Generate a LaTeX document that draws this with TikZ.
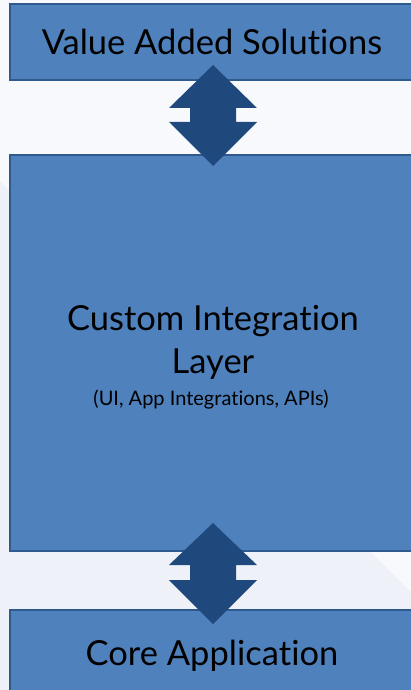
\documentclass[tikz,border=0pt]{standalone}
\usepackage{fontspec}
\setmainfont{Lato}[RawFeature={-liga;-dlig;-calt}]
\definecolor{bglow}{HTML}{EEF1F8}
\definecolor{bghigh}{HTML}{F8F9FC}
\definecolor{boxfill}{HTML}{4F81BD}
\definecolor{boxline}{HTML}{2F5A8E}
\definecolor{arrowfill}{HTML}{1F497D}
\tikzset{
  layerbox/.style={fill=boxfill, draw=boxline, line width=1.6pt},
  dblarrow/.style={fill=arrowfill, draw=none},
  biglbl/.style={font=\fontsize{34.5}{38}\selectfont, text=black, inner sep=0pt, anchor=base},
  smalllbl/.style={font=\fontsize{20}{23}\selectfont, text=black, inner sep=0pt, anchor=base}
}
\newcommand{\nolig}{\kern0pt}
\begin{document}
\begin{tikzpicture}[x=1pt,y=-1pt]
\useasboundingbox (0,0) rectangle (411,690);
\clip (0,0) rectangle (411,690);
% background
\fill[bglow] (0,0) rectangle (411,690);
\fill[bghigh] (0,0) -- (411,0) -- (411,592) -- (0,181) -- cycle;
% boxes
\draw[layerbox] (10,4) rectangle (425,80);
\draw[layerbox] (10,155) rectangle (425,551);
\draw[layerbox] (10,610) rectangle (425,710);
% arrows
\fill[dblarrow] (213,65) -- (257,108) -- (236,108) -- (236,122) -- (257,122) -- (213,166)
  -- (169,122) -- (190,122) -- (190,108) -- (169,108) -- cycle;
\fill[dblarrow] (213,523) -- (257,565) -- (236,565) -- (236,580) -- (257,580) -- (213,624)
  -- (169,580) -- (190,580) -- (190,565) -- (169,565) -- cycle;
% labels
\node[biglbl] (vas) at (212,55) {Value Added Solu\nolig tions};
\node[biglbl] (cil1) at (213,330) {Custom Integra\nolig tion};
\node[biglbl] (cil2) at (213,373) {Layer};
\node[smalllbl] (cil3) at (211,405) {(UI, App Integra\nolig tions, APIs)};
\node[biglbl] (core) at (212,665) {Core Applica\nolig tion};
\end{tikzpicture}
\end{document}
